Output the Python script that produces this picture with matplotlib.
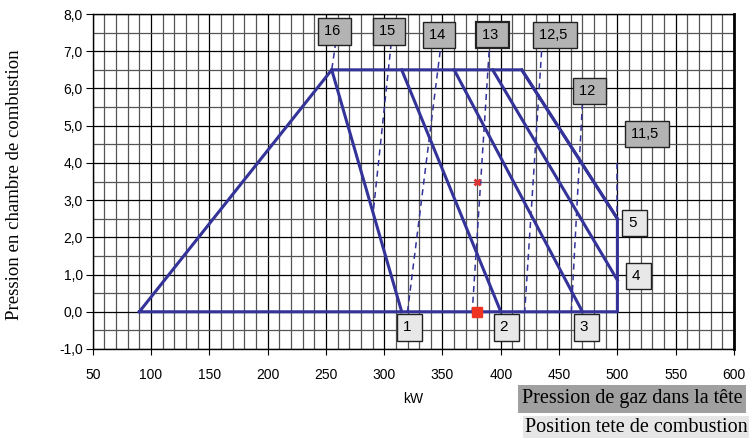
import matplotlib.pyplot as plt
from matplotlib.ticker import MultipleLocator, FuncFormatter

# envelope of the working field
env_kw = [90, 255, 418, 500, 500, 90]
env_p = [0, 6.5, 6.5, 2.5, 0, 0]

# head position lines (1..5)
pos_names = ["1", "2", "3", "4", "5"]
pos_kw_top = [255, 315, 360, 393, 418]
pos_kw_bot = [315, 400, 470, 500, 500]
pos_p_bot = [0, 0, 0, 0.85, 2.5]
pos_lab_kw = [321.5, 405, 473.5, 518, 515]
pos_lab_p = [-0.42, -0.42, -0.42, 0.97, 2.38]

# gas pressure lines (dashed)
gas_names = ["16", "15", "14", "13", "12,5", "12", "11,5"]
gas_kw_top = [258.5, 306, 348, 390, 435, 470, 500]
gas_p_top = [7.25, 7.22, 7.0, 7.0, 7.0, 5.6, 4.0]
gas_kw_bot = [255, 290.5, 320, 375.5, 420.5, 460.5, 500]
gas_p_bot = [6.5, 2.65, 0, 0, 0, 0, 2.5]
gas_lab_kw = [257.5, 304, 347, 393, 446.5, 476, 525.5]
gas_lab_p = [7.53, 7.53, 7.43, 7.43, 7.43, 5.93, 4.78]

# operating point
pt_kw = 380
pt_gas = 3.5

blue = "#333399"

fig = plt.figure(figsize=(7.55, 4.38), dpi=100)
ax = fig.add_axes([92.7 / 755, 89 / 438, 641.3 / 755, 335 / 438])

ax.set_xlim(50, 600)
ax.set_ylim(-1, 8)
ax.xaxis.set_major_locator(MultipleLocator(50))
ax.xaxis.set_minor_locator(MultipleLocator(10))
ax.yaxis.set_major_locator(MultipleLocator(1))
ax.yaxis.set_minor_locator(MultipleLocator(0.5))
ax.yaxis.set_major_formatter(FuncFormatter(lambda v, p: f"{v:.1f}".replace(".", ",")))
ax.grid(True, which="major", color="#000000", linewidth=0.9)
ax.grid(True, which="minor", color="#555555", linewidth=0.9)
ax.set_axisbelow(True)
ax.tick_params(which="minor", length=0)
ax.tick_params(axis="x", which="major", length=4, pad=10, labelsize=10)
ax.tick_params(axis="y", which="major", length=5, pad=2, labelsize=10)
for lab in ax.get_xticklabels() + ax.get_yticklabels():
    lab.set_family("Liberation Sans")
ax.spines["right"].set_linewidth(2)
for s in ["left", "top", "bottom"]:
    ax.spines[s].set_linewidth(1)

ax.plot(env_kw, env_p, color=blue, lw=2.2, zorder=3)
for i in range(len(pos_names)):
    ax.plot([pos_kw_top[i], pos_kw_bot[i]], [6.5, pos_p_bot[i]], color=blue, lw=2.2, zorder=3)
for i in range(len(gas_names)):
    ax.plot([gas_kw_top[i], gas_kw_bot[i]], [gas_p_top[i], gas_p_bot[i]],
            color=blue, lw=1.1, ls=(0, (4, 3)), zorder=3)

ax.plot(pt_kw, pt_gas, marker="x", color="#dd3333", ms=4.5, mew=2, zorder=5)
ax.plot(pt_kw, 0, marker="s", color="#ee3322", ms=7, zorder=5, clip_on=False)

for i, name in enumerate(gas_names):
    lw = 1.6 if name == "13" else 1
    ax.text(gas_lab_kw[i], gas_lab_p[i], name + " ", fontsize=10.5, family="Liberation Sans",
            ha="center", va="center", zorder=6,
            bbox=dict(boxstyle="square,pad=0.42", fc="#b3b3b3", ec="#222222", lw=lw))
for i, name in enumerate(pos_names):
    ax.text(pos_lab_kw[i], pos_lab_p[i], name + " ", fontsize=11, family="Liberation Sans",
            ha="center", va="center", zorder=6,
            bbox=dict(boxstyle="square,pad=0.4", fc="#e8e8e8", ec="#222222", lw=1))

ax.set_xlabel("kW", fontsize=10, family="Liberation Sans", labelpad=7)
fig.text(15 / 755, 1 - 185 / 438, "Pression en chambre de combustion", rotation=90,
         ha="center", va="center", fontsize=13.5, family="Liberation Serif")

fig.text(632 / 755, 1 - 399 / 438, "Pression de gaz dans la tête", ha="center", va="center",
         fontsize=14.5, family="Liberation Serif",
         bbox=dict(boxstyle="square,pad=0.2", fc="#a0a0a0", ec="none"))
fig.text(636 / 755, 1 - 428 / 438, "Position tete de combustion", ha="center", va="center",
         fontsize=14.5, family="Liberation Serif",
         bbox=dict(boxstyle="square,pad=0.1", fc="#e6e6e6", ec="none"))

fig.savefig("out.png", dpi=100)
